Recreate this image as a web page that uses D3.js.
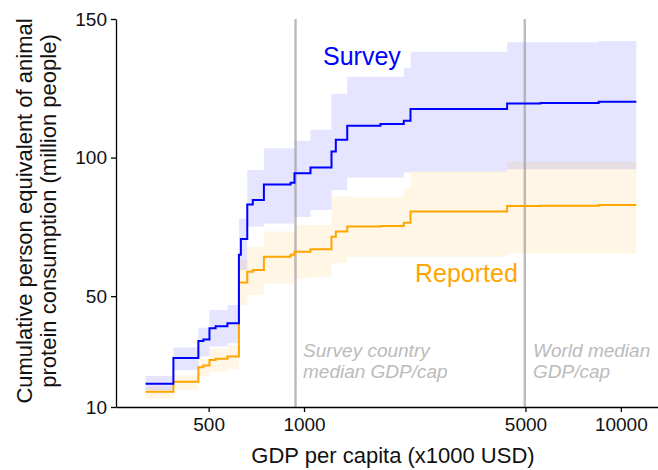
<!DOCTYPE html>
<html>
<head>
<meta charset="utf-8">
<script src="https://cdn.jsdelivr.net/npm/d3@7"></script>
<style>
  body { margin: 0; background: #fff; }
  text { font-family: "Liberation Sans", Arial, sans-serif; }
</style>
</head>
<body>
<svg id="chart" width="658" height="470"></svg>
<script>
// step breakpoints (GDP per capita), last entry closes the final step
const gdp = [316, 387, 464, 481, 503, 526, 573, 623, 632, 662, 689, 747, 907, 933,
  1048, 1221, 1260, 1369, 1743, 2065, 2168, 4375, 5572, 8511, 11190];

const survey = [18.4, 27.7, 33.8, 34.4, 38.4, 39.1, 40.2, 64.9, 70.6, 83.1, 84.7, 90.3, 90.9,
  94.3, 96.4, 102.2, 106.4, 111.5, 112.1, 113.3, 117.5, 119.5, 119.7, 120.1, 120.1];
const surveyLo = [16, 23.3, 28.2, 28.2, 31.8, 31.8, 33, 59.4, 59.4, 75.1, 75.1, 76.2, 76.2,
  78.6, 81.1, 88.3, 88.3, 92.8, 92.8, 94.6, 94.9, 95.8, 95.8, 95.8, 95.8];
const surveyHi = [21.2, 31.5, 38.6, 38.6, 45, 45, 46.8, 78, 78, 95.5, 95.5, 103.4, 103.4,
  106, 110, 123, 123, 129.2, 129.2, 132.2, 138.2, 141.6, 141.6, 142.1, 142.1];

const reported = [15.5, 19.1, 24.3, 25.0, 27.0, 27.4, 28.2, 54.9, 54.9, 58.8, 59.4, 64.2, 64.9,
  66.0, 66.9, 71.4, 73.3, 75.1, 75.3, 76.5, 80.5, 82.5, 82.6, 82.9, 82.9];
const reportedLo = [13.1, 16.1, 21.2, 21.2, 22.7, 22.7, 23.8, 46.8, 46.8, 50.4, 50.4, 54.6, 54.6,
  56.4, 57, 61.9, 61.9, 64.2, 64.2, 64.2, 64.2, 65.4, 65.4, 65.4, 65.4];
const reportedHi = [17.3, 21.5, 27.6, 27.6, 31.1, 31.1, 32.3, 63.1, 63.1, 67.9, 67.9, 73.3, 73.3,
  75.7, 75.7, 86, 86, 85.9, 85.9, 88.9, 95, 98.5, 98.5, 98.5, 98.5];

const xTicks = [500, 1000, 5000, 10000];
const yTicks = [10, 50, 100, 150];
const surveyMedian = 940;
const worldMedian = 4975;

const svg = d3.select("#chart");

const x = d3.scaleLog().domain([255, 13100]).range([116, 658]);
const y = d3.scaleLinear().domain([10, 150]).range([407, 19]);

const rows = gdp.map((g, i) => ({
  g: g, s: survey[i], sLo: surveyLo[i], sHi: surveyHi[i],
  r: reported[i], rLo: reportedLo[i], rHi: reportedHi[i]
}));

function band(lo, hi) {
  return d3.area().curve(d3.curveStepAfter)
    .x(d => x(d.g)).y0(d => y(d[lo])).y1(d => y(d[hi]));
}
function stepLine(key) {
  return d3.line().curve(d3.curveStepAfter).x(d => x(d.g)).y(d => y(d[key]));
}

// uncertainty bands
svg.append("path").attr("d", band("sLo", "sHi")(rows))
  .attr("fill", "blue").attr("fill-opacity", 0.1);
svg.append("path").attr("d", band("rLo", "rHi")(rows))
  .attr("fill", "orange").attr("fill-opacity", 0.1);

// median lines
[surveyMedian, worldMedian].forEach(v => {
  svg.append("line")
    .attr("x1", x(v)).attr("x2", x(v)).attr("y1", y(150)).attr("y2", y(10))
    .attr("stroke", "#999").attr("stroke-opacity", 0.65).attr("stroke-width", 2.5);
});

svg.append("path").attr("d", stepLine("r")(rows))
  .attr("fill", "none").attr("stroke", "orange").attr("stroke-width", 2);
svg.append("path").attr("d", stepLine("s")(rows))
  .attr("fill", "none").attr("stroke", "blue").attr("stroke-width", 2);

// axes
const xAxis = svg.append("g").attr("transform", "translate(0,407)")
  .call(d3.axisBottom(x).tickValues(xTicks).tickFormat(d3.format("d"))
    .tickSize(5).tickPadding(6).tickSizeOuter(0));
const yAxis = svg.append("g").attr("transform", "translate(116,0)")
  .call(d3.axisLeft(y).tickValues(yTicks).tickSize(5).tickPadding(4).tickSizeOuter(0));

[xAxis, yAxis].forEach(a => {
  a.select(".domain").attr("stroke", "#000").attr("stroke-width", 1.3);
  a.selectAll(".tick line").attr("stroke", "#000").attr("stroke-width", 1.3);
  a.selectAll(".tick text").attr("font-size", 19).attr("fill", "#111")
    .attr("font-family", "Liberation Sans, Arial, sans-serif");
});

svg.append("text").attr("x", 393).attr("y", 463).attr("text-anchor", "middle")
  .attr("font-size", 22).attr("fill", "#111").text("GDP per capita (x1000 USD)");

const yl = svg.append("text").attr("transform", "translate(0,211) rotate(-90)")
  .attr("text-anchor", "middle").attr("font-size", 22).attr("fill", "#111");
yl.append("tspan").attr("x", 0).attr("y", 32).text("Cumulative person equivalent of animal");
yl.append("tspan").attr("x", 0).attr("y", 56).text("protein consumption (million people)");

// series labels
svg.append("text").attr("x", 323).attr("y", 65).attr("font-size", 25)
  .attr("fill", "blue").text("Survey");
svg.append("text").attr("x", 415).attr("y", 282).attr("font-size", 25)
  .attr("fill", "orange").text("Reported");

// median annotations
function note(x0, lines) {
  const t = svg.append("text").attr("font-size", 19).attr("font-style", "italic")
    .attr("fill", "#bbb");
  lines.forEach((l, i) => t.append("tspan").attr("x", x0).attr("y", 357 + i * 21).text(l));
}
note(303, ["Survey country", "median GDP/cap"]);
note(533, ["World median", "GDP/cap"]);
</script>
</body>
</html>
